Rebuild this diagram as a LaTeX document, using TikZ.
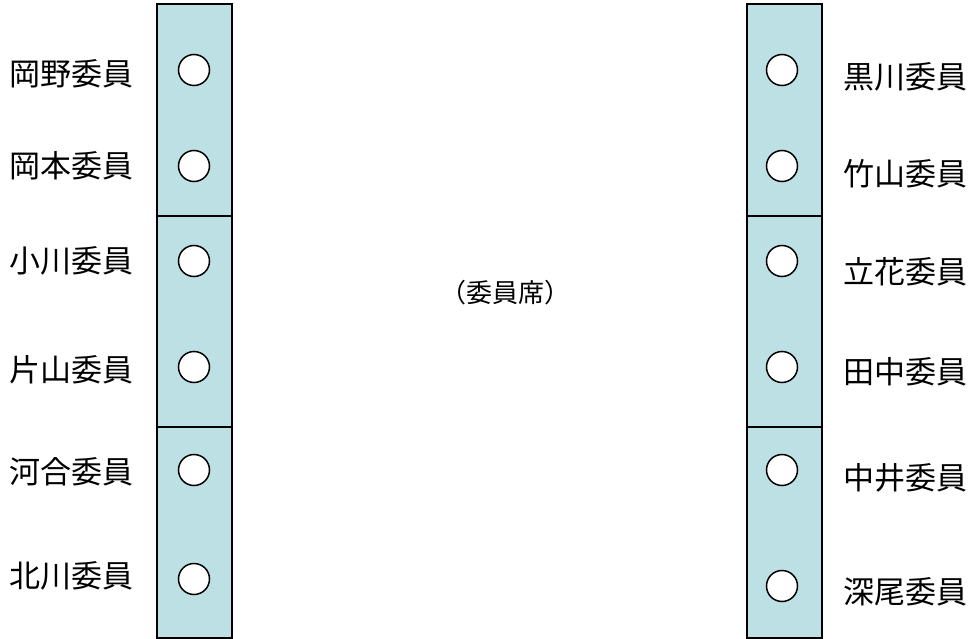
\documentclass[tikz,border=0pt]{standalone}
\usepackage{fontspec}
\setmainfont{Noto Sans CJK JP}
\definecolor{seatblue}{RGB}{188,224,228}
\tikzset{
  column/.style={fill=seatblue,draw=black,line width=2pt},
  divider/.style={draw=black,line width=2pt},
  seat/.style={circle,draw=black,fill=white,line width=1.5pt,minimum size=31pt,inner sep=0pt},
  lname/.style={anchor=east,inner sep=0pt,font=\fontsize{31}{36}\selectfont},
  rname/.style={anchor=west,inner sep=0pt,font=\fontsize{31}{36}\selectfont},
  title/.style={inner sep=0pt,font=\fontsize{26}{30}\selectfont}
}
\begin{document}
\begin{tikzpicture}[x=1pt,y=-1pt]
\useasboundingbox (0,0) rectangle (971,639);
% columns
\draw[column] (157,4) rectangle (232,638);
\draw[column] (747,4) rectangle (822,638);
\coordinate (l1a) at (157,216); \coordinate (l1b) at (232,216);
\coordinate (l2a) at (157,427); \coordinate (l2b) at (232,427);
\coordinate (r1a) at (747,216); \coordinate (r1b) at (822,216);
\coordinate (r2a) at (747,427); \coordinate (r2b) at (822,427);
\draw[divider] (l1a) -- (l1b);
\draw[divider] (l2a) -- (l2b);
\draw[divider] (r1a) -- (r1b);
\draw[divider] (r2a) -- (r2b);
% left seats
\node[seat] (ls1) at (194,70) {};
\node[seat] (ls2) at (194,166) {};
\node[seat] (ls3) at (194,261) {};
\node[seat] (ls4) at (194,367) {};
\node[seat] (ls5) at (194,470) {};
\node[seat] (ls6) at (194,579) {};
% right seats
\node[seat] (rs1) at (782,70) {};
\node[seat] (rs2) at (782,166) {};
\node[seat] (rs3) at (782,261) {};
\node[seat] (rs4) at (782,367) {};
\node[seat] (rs5) at (782,470) {};
\node[seat] (rs6) at (782,586) {};
% left names
\node[lname] (ln1) at (134,74) {岡野委員};
\node[lname] (ln2) at (134,166) {岡本委員};
\node[lname] (ln3) at (134,261) {小川委員};
\node[lname] (ln4) at (134,370) {片山委員};
\node[lname] (ln5) at (134,472) {河合委員};
\node[lname] (ln6) at (134,576) {北川委員};
% right names
\node[rname] (rn1) at (843,77) {黒川委員};
\node[rname] (rn2) at (843,174) {竹山委員};
\node[rname] (rn3) at (843,272) {立花委員};
\node[rname] (rn4) at (843,372) {田中委員};
\node[rname] (rn5) at (843,478) {中井委員};
\node[rname] (rn6) at (843,592) {深尾委員};
% centre
\node[title] (ttl) at (505,293) {（委員席）};
\end{tikzpicture}
\end{document}
